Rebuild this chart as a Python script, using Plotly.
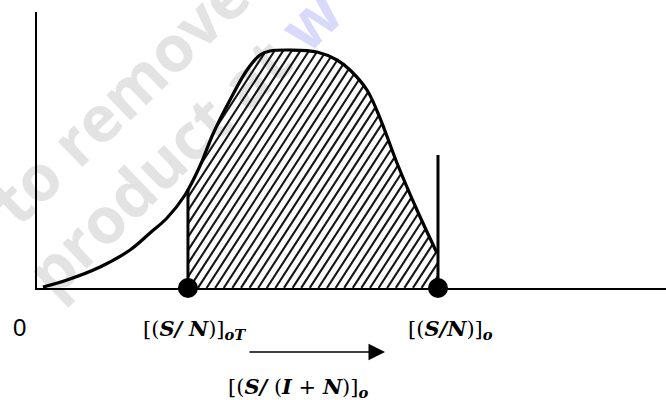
import numpy as np
import plotly.graph_objects as go

# Response curve (arbitrary units)
curve_x = [0.95, 4.77, 10.02, 14.79, 17.97, 20.67, 23.53, 25.91, 27.98, 30.68, 33.39,
           35.45, 37.04, 40.22, 44.52, 47.69, 49.76, 52.46, 54.53, 57.23, 60.41, 63.59]
curve_y = [0.36, 2.90, 7.61, 13.77, 19.93, 25.36, 33.70, 44.20, 55.80, 68.12, 78.99,
           84.42, 85.87, 86.23, 85.51, 82.61, 78.99, 71.74, 61.59, 45.29, 28.26, 12.68]

# Threshold positions on the horizontal axis
x_threshold = 24.0      # [(S/N)]_oT
x_operating = 63.75     # [(S/N)]_o
operating_marker_top = 48.2

# Layout geometry (pixels)
W, H = 666, 400
ML, MR, MT, MB = 37, 0, 12, 112
PW, PH = W - ML - MR, H - MT - MB
X_RANGE = (0, 100)
Y_RANGE = (0, 100)
sx = PW / (X_RANGE[1] - X_RANGE[0])
sy = PH / (Y_RANGE[1] - Y_RANGE[0])


def f_curve(x):
    return np.interp(x, curve_x, curve_y)


def px_to_paper(px, py):
    return (px - ML) / PW, (H - MB - py) / PH


# Hatching: slanted lines clipped to the area under the curve between thresholds
angle = np.deg2rad(57)
spacing_px = 8.6
k = np.tan(angle) * sx / sy          # slope in data units
hx, hy = [], []
xs = np.linspace(x_threshold, x_operating, 3000)
fx = f_curve(xs)
c = x_threshold - 100 / k
while c < x_operating:
    yl = k * (xs - c)
    ok = (yl >= 0) & (yl <= fx)
    if ok.any():
        idx = np.where(ok)[0]
        i0, i1 = idx[0], idx[-1]
        hx += [xs[i0], xs[i1], None]
        hy += [yl[i0], yl[i1], None]
    c += spacing_px / sx

fig = go.Figure()

fig.add_trace(go.Scatter(x=hx, y=hy, mode="lines",
                         line=dict(color="#151515", width=2.1),
                         hoverinfo="skip", cliponaxis=False))

fig.add_trace(go.Scatter(x=curve_x, y=curve_y, mode="lines",
                         line=dict(color="black", width=3.2, shape="spline", smoothing=1.0),
                         hoverinfo="skip", cliponaxis=False))

fig.add_trace(go.Scatter(x=[x_threshold, x_threshold], y=[0, float(f_curve(x_threshold))],
                         mode="lines", line=dict(color="black", width=3),
                         hoverinfo="skip", cliponaxis=False))
fig.add_trace(go.Scatter(x=[x_operating, x_operating], y=[0, operating_marker_top],
                         mode="lines", line=dict(color="black", width=3),
                         hoverinfo="skip", cliponaxis=False))

fig.add_trace(go.Scatter(x=[x_threshold, x_operating], y=[0, 0], mode="markers",
                         marker=dict(color="black", size=20),
                         hoverinfo="skip", cliponaxis=False))

serif = "DejaVu Serif"
bi = lambda s: f"<b><i>{s}</i></b>"

label_origin = "0"
label_threshold = f"[({bi('S/')} {bi('N')})]<sub>{bi('oT')}</sub>"
label_operating = f"[({bi('S/N')})]<sub>{bi('o')}</sub>"
label_interference = f"[({bi('S/')} ({bi('I')} + {bi('N')})]<sub>{bi('o')}</sub>"

annotations = []


def add_label(text, px, py, font):
    xp, yp = px_to_paper(px, py)
    annotations.append(dict(x=xp, y=yp, xref="paper", yref="paper", text=text,
                            xanchor="center", yanchor="middle",
                            showarrow=False, font=font))


add_label(label_origin, 19, 327, dict(family="Liberation Sans", size=24, color="black"))
add_label(label_threshold, 195, 329, dict(family=serif, size=21, color="black"))
add_label(label_operating, 450, 329, dict(family=serif, size=21, color="black"))
add_label(label_interference, 298, 387, dict(family=serif, size=21, color="black"))

# direction arrow
xh, yh = px_to_paper(385, 352)
annotations.append(dict(x=xh, y=yh, xref="paper", yref="paper", text="",
                        showarrow=True, ax=-137, ay=0, axref="pixel", ayref="pixel",
                        arrowhead=2, arrowsize=2.2, arrowwidth=1.5, arrowcolor="black",
                        standoff=0, startstandoff=0))

# faint watermark text behind the drawing
shapes = []
for text, (cx, cy), size in [("to remove", (122, 100), 64),
                             ("product at <span style='color:#d9d9fb'>w</span>", (186, 144), 64)]:
    px0, py0 = px_to_paper(cx - 5, cy + 5)
    px1, py1 = px_to_paper(cx + 5, cy - 5)
    shapes.append(dict(type="rect", xref="paper", yref="paper",
                       x0=px0, x1=px1, y0=py0, y1=py1, layer="below",
                       line=dict(width=0), fillcolor="rgba(0,0,0,0)",
                       label=dict(text=f"<b>{text}</b>", textangle=-44,
                                  textposition="middle center",
                                  font=dict(family="Open Sans", size=size, color="#e3e3e3"))))

fig.update_layout(
    width=W, height=H,
    margin=dict(l=ML, r=MR, t=MT, b=MB, pad=0),
    paper_bgcolor="white", plot_bgcolor="rgba(0,0,0,0)",
    showlegend=False,
    xaxis=dict(range=list(X_RANGE), showgrid=False, zeroline=False, showticklabels=False,
               ticks="", showline=True, linecolor="black", linewidth=2, fixedrange=True),
    yaxis=dict(range=list(Y_RANGE), showgrid=False, zeroline=False, showticklabels=False,
               ticks="", showline=True, linecolor="black", linewidth=2, fixedrange=True),
    annotations=annotations,
    shapes=shapes,
)

fig.write_html("out.html")
